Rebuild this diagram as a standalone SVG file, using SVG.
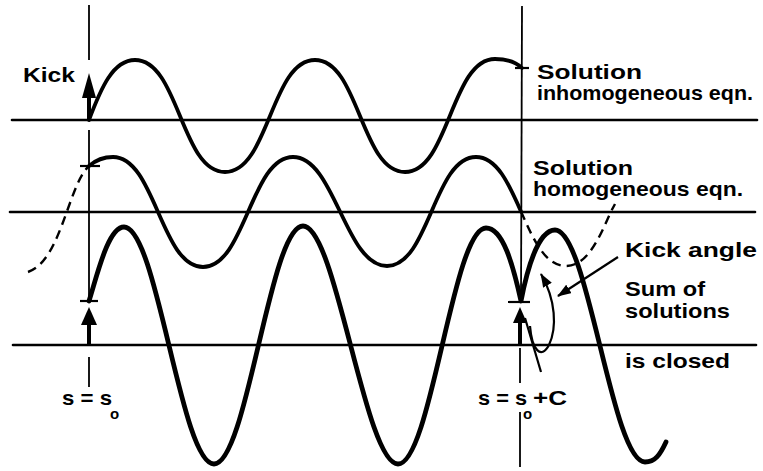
<svg xmlns="http://www.w3.org/2000/svg" width="763" height="471" viewBox="0 0 763 471">
<style>
  .axis { stroke:#000; stroke-width:2.6; fill:none; stroke-linecap:round; }
  .vline { stroke:#000; stroke-width:1.8; fill:none; }
  .c1 { stroke:#000; stroke-width:3.8; fill:none; stroke-linecap:round; stroke-linejoin:round; }
  .c3 { stroke:#000; stroke-width:4.8; fill:none; stroke-linecap:round; stroke-linejoin:round; }
  .dash { stroke:#000; stroke-width:2.4; fill:none; stroke-dasharray:9 6; }
  .thin { stroke:#000; stroke-width:2.2; fill:none; }
  .tick { stroke:#000; stroke-width:2.2; }
  .shaft { stroke:#000; stroke-width:4; }
  text { font-family:"Liberation Sans", Arial, sans-serif; font-weight:bold; font-size:21px; fill:#000; }
  .sub { font-size:15px; }
</style>
<defs>
  <marker id="ah" markerUnits="userSpaceOnUse" markerWidth="14" markerHeight="10" refX="13" refY="5" orient="auto">
    <path d="M0,0 L14,5 L0,10 z" fill="#000"/>
  </marker>
</defs>
<rect width="763" height="471" fill="#fff"/>

<g id="axes">
  <line class="axis" x1="12" y1="120" x2="757" y2="120"/>
  <line class="axis" x1="10" y1="212" x2="755" y2="212"/>
  <line class="axis" x1="13" y1="345" x2="756" y2="345"/>
</g>

<g id="markers-s0">
  <line class="vline" x1="89" y1="5" x2="89" y2="60"/>
  <line class="vline" x1="89" y1="130" x2="89" y2="301"/>
  <line class="vline" x1="89" y1="357" x2="89" y2="387"/>
  <line class="tick" x1="80" y1="166" x2="100" y2="166"/>
  <line class="tick" x1="80" y1="301" x2="98" y2="301"/>
  <line class="shaft" x1="89" y1="120" x2="89" y2="95"/>
  <polygon points="89,73 96,98 82,98" fill="#000"/>
  <line class="shaft" x1="89" y1="345" x2="89" y2="322"/>
  <polygon points="89,307 97,325 81,325" fill="#000"/>
</g>

<g id="markers-s0C">
  <line class="vline" x1="522" y1="6" x2="521" y2="302"/>
  <line class="vline" x1="520" y1="348" x2="520" y2="383"/>
  <line class="vline" x1="520" y1="412" x2="520" y2="467"/>
  <line class="tick" x1="515" y1="68" x2="529" y2="68"/>
  <line class="tick" x1="508" y1="302" x2="530" y2="302"/>
  <line class="shaft" x1="520" y1="345" x2="520" y2="320"/>
  <polygon points="520,307 527,323 513,323" fill="#000"/>
</g>

<g id="curve-inhomogeneous">
  <path class="c1" d="M89,120 C101,88 113,60 135,60 C179,60 181,172 225,172 C269,172 271,60 315,60 C359,60 361,172 405,172 C449,172 451,59 495,59 C508,59 516,62 522,68"/>
</g>

<g id="curve-homogeneous">
  <path class="c1" d="M89,166 C97,159 104,157 113,157 C155,157 161,267 203,267 C245,267 251,157 293,157 C335,157 345,266 387,266 C429,266 434,157 476,157 C497,157 509,184.25 521,211.5"/>
  <path class="dash" d="M28,272 C45,266 55,245 66,214 C74,192 80,174 89,166"/>
  <path class="dash" d="M521,211.5 C533,238.75 545,266 566,266 C587,266 599,238.75 611,211.5 L615,204"/>
</g>

<g id="curve-sum">
  <path class="c3" d="M89,301 C97,276 108,227 124,227 C157,227 181,464 214,464 C247,464 270,226 303,226 C336,226 365,464 398,464 C431,464 453,228 486,228 C503,228 513,265 521,301 C527,270 538,230 555,230 C588,230 612,462 645,462 C655,462 660,455 666,442"/>
</g>

<g id="kick-angle">
  <line class="thin" x1="525" y1="318" x2="541" y2="372"/>
  <path class="thin" d="M530,326 C532,350 541,360 549,345 C557,328 556,300 541,274" marker-end="url(#ah)"/>
  <line class="thin" x1="618" y1="257" x2="558" y2="296" marker-end="url(#ah)"/>
</g>

<g id="labels">
  <text x="23" y="82" textLength="52" lengthAdjust="spacingAndGlyphs">Kick</text>
  <text x="537" y="79" textLength="105" lengthAdjust="spacingAndGlyphs">Solution</text>
  <text x="537" y="100" textLength="216" lengthAdjust="spacingAndGlyphs">inhomogeneous eqn.</text>
  <text x="533" y="175" textLength="100" lengthAdjust="spacingAndGlyphs">Solution</text>
  <text x="533" y="196" textLength="210" lengthAdjust="spacingAndGlyphs">homogeneous eqn.</text>
  <text x="625" y="257" textLength="132" lengthAdjust="spacingAndGlyphs">Kick angle</text>
  <text x="625" y="296" textLength="80" lengthAdjust="spacingAndGlyphs">Sum of</text>
  <text x="625" y="318" textLength="105" lengthAdjust="spacingAndGlyphs">solutions</text>
  <text x="625" y="368" textLength="105" lengthAdjust="spacingAndGlyphs">is closed</text>
  <text x="62" y="405" textLength="50" lengthAdjust="spacingAndGlyphs">s = s</text>
  <text class="sub" x="110" y="419">o</text>
  <text x="478" y="405" textLength="49" lengthAdjust="spacingAndGlyphs">s = s</text>
  <text class="sub" x="523" y="419">o</text>
  <text x="533" y="405" textLength="34" lengthAdjust="spacingAndGlyphs">+C</text>
</g>
</svg>
